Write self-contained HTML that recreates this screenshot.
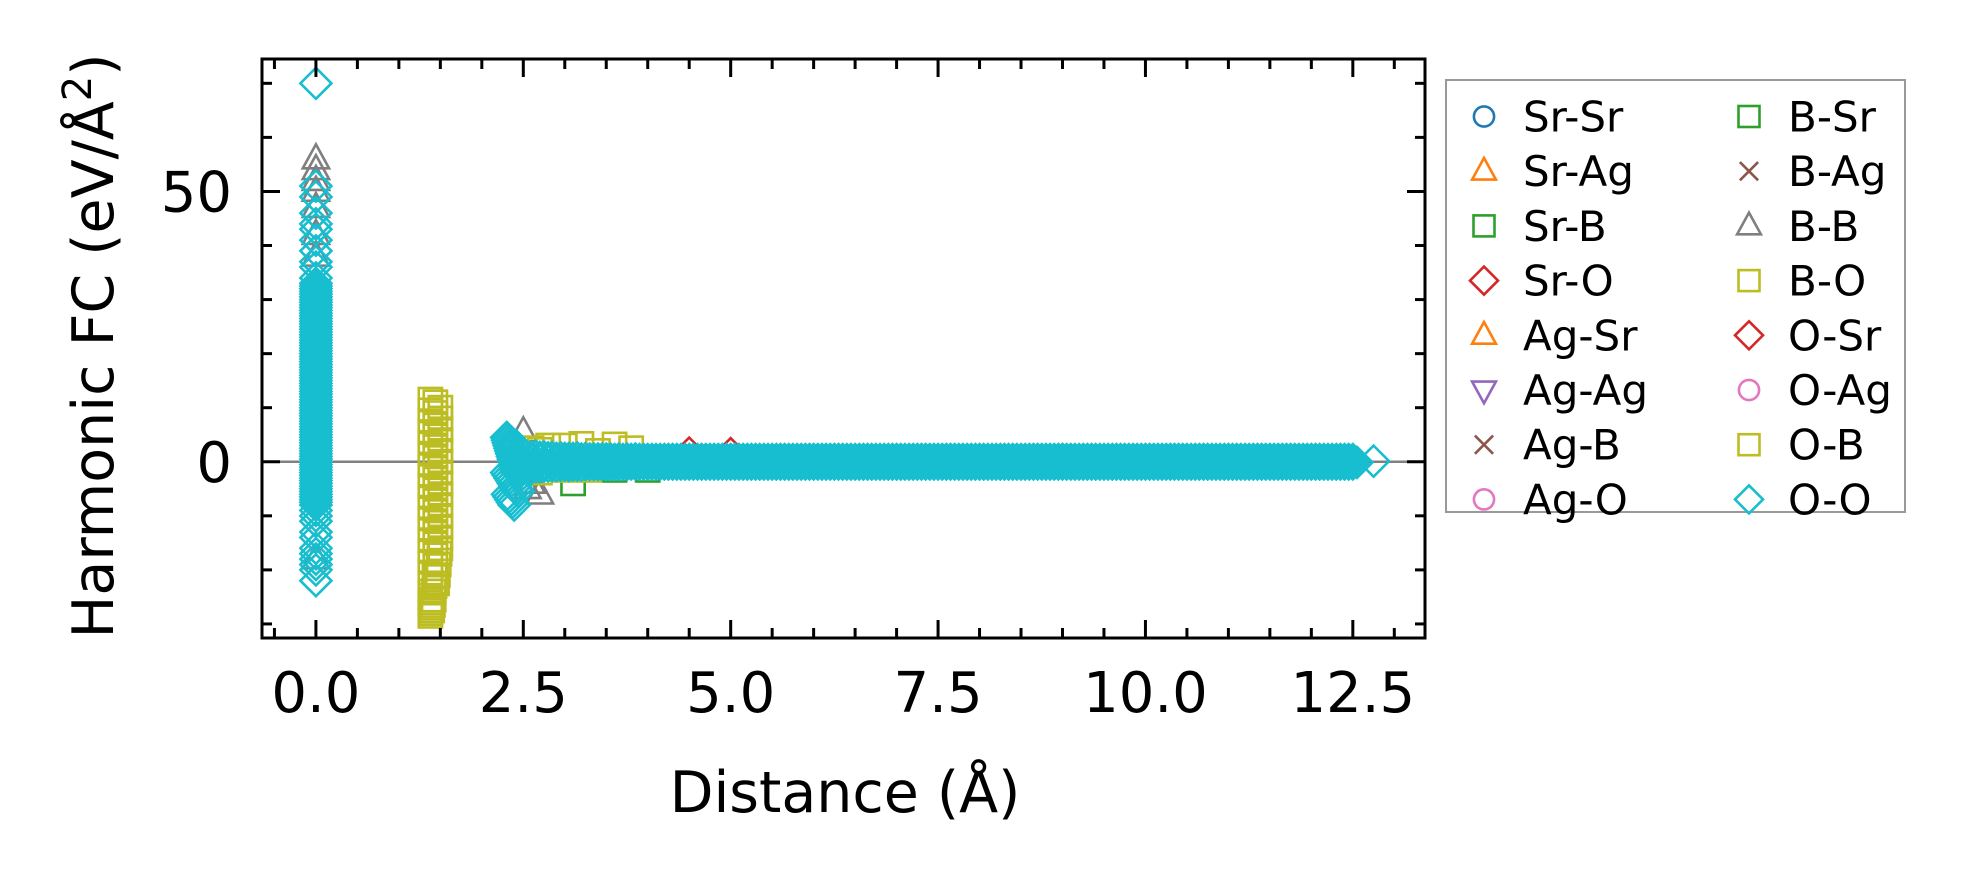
<!DOCTYPE html>
<html><head><meta charset="utf-8"><style>
html,body{margin:0;padding:0;background:#fff;}
svg{display:block;font-family:"DejaVu Sans","Liberation Sans",sans-serif;}
</style></head><body>
<svg id="chart" width="1966" height="883" viewBox="0 0 1966 883" xmlns="http://www.w3.org/2000/svg">
<rect x="0" y="0" width="1966" height="883" fill="#fff"/>
<g id="plot"></g>
<g id="axes"></g>
<g id="legend"></g>
</svg>
<script>
// axis config
const xTicks = [0.0, 2.5, 5.0, 7.5, 10.0, 12.5];
const xTickLabels = ["0.0", "2.5", "5.0", "7.5", "10.0", "12.5"];
const yTicks = [0, 50];
const yTickLabels = ["0", "50"];

// O-O at zero distance (self terms)
const ooY0 = [70,51,49,46,44,43,41,39,37,36,34,33,32.5,32,31.5,31,30.5,30,29.5,29,28.5,28,27.5,27,26.5,26,25.5,25,24.5,24,23.5,23,22.5,22,21.5,21,20.5,20,19.5,19,18.5,18,17.5,17,16.5,16,15.5,15,14.5,14,13.5,13,12.5,12,11.5,11,10.5,10,9.5,9,8.5,8,7.5,7,6.5,6,5.5,5,4.5,4,3.5,3,2.5,2,1.5,1,0.5,0,-0.5,-1,-1.5,-2,-2.5,-3,-3.5,-4,-4.5,-5,-5.5,-6,-6.5,-7,-7.5,-8,-9,-10,-11,-13,-14,-16,-17,-18,-19,-20,-22];
// O-O near neighbours cluster
const ooXc = [2.3,2.31,2.32,2.33,2.34,2.35,2.36,2.37,2.38,2.39,2.4,2.41,2.42,2.3,2.32,2.34,2.36,2.38,2.4,2.42,2.44,2.31,2.33,2.35,2.37,2.39,2.41,2.43,2.45,2.47];
const ooYc = [4.5,4,3.5,3,2.5,2,1.5,1,0.5,0,-0.5,-1,-1.5,-2,-2.5,-3,-3.5,-4,-4.5,-5,-5.5,-6,-6.5,-7,-7.5,-8,3,-2,1,-1];
// O-O long-range band
const bandX = [2.50,2.55,2.60,2.65,2.70,2.75,2.80,2.85,2.90,2.95,3.00,3.05,3.10,3.15,3.20,3.25,3.30,3.35,3.40,3.45,3.50,3.55,3.60,3.65,3.70,3.75,3.80,3.85,3.90,3.95,4.00,4.05,4.10,4.15,4.20,4.25,4.30,4.35,4.40,4.45,4.50,4.55,4.60,4.65,4.70,4.75,4.80,4.85,4.90,4.95,5.00,5.05,5.10,5.15,5.20,5.25,5.30,5.35,5.40,5.45,5.50,5.55,5.60,5.65,5.70,5.75,5.80,5.85,5.90,5.95,6.00,6.05,6.10,6.15,6.20,6.25,6.30,6.35,6.40,6.45,6.50,6.55,6.60,6.65,6.70,6.75,6.80,6.85,6.90,6.95,7.00,7.05,7.10,7.15,7.20,7.25,7.30,7.35,7.40,7.45,7.50,7.55,7.60,7.65,7.70,7.75,7.80,7.85,7.90,7.95,8.00,8.05,8.10,8.15,8.20,8.25,8.30,8.35,8.40,8.45,8.50,8.55,8.60,8.65,8.70,8.75,8.80,8.85,8.90,8.95,9.00,9.05,9.10,9.15,9.20,9.25,9.30,9.35,9.40,9.45,9.50,9.55,9.60,9.65,9.70,9.75,9.80,9.85,9.90,9.95,10.00,10.05,10.10,10.15,10.20,10.25,10.30,10.35,10.40,10.45,10.50,10.55,10.60,10.65,10.70,10.75,10.80,10.85,10.90,10.95,11.00,11.05,11.10,11.15,11.20,11.25,11.30,11.35,11.40,11.45,11.50,11.55,11.60,11.65,11.70,11.75,11.80,11.85,11.90,11.95,12.00,12.05,12.10,12.15,12.20,12.25,12.30,12.35,12.40,12.45,12.50];
const bandYa = [1.2,-1.0,0.9,-0.9,0.8,-0.8,0.7,-0.7,0.6,-0.6,0.6,-0.7,0.6,-0.6,0.5,-0.5,0.5,-0.5,0.5,-0.5,0.5,-0.5,0.4,-0.5,0.4,-0.5,0.4,-0.4,0.4,-0.4,0.4,-0.4,0.4,-0.4,0.4,-0.4,0.4,-0.4,0.4,-0.4,0.4,-0.4,0.4,-0.4,0.4,-0.4,0.4,-0.4,0.4,-0.4,0.4,-0.4,0.4,-0.4,0.4,-0.4,0.4,-0.4,0.4,-0.4,0.4,-0.4,0.4,-0.4,0.4,-0.4,0.4,-0.4,0.4,-0.4,0.4,-0.4,0.4,-0.4,0.4,-0.4,0.4,-0.4,0.4,-0.4,0.4,-0.4,0.4,-0.4,0.4,-0.4,0.4,-0.4,0.4,-0.4,0.4,-0.4,0.4,-0.4,0.4,-0.4,0.4,-0.4,0.4,-0.4,0.4,-0.4,0.4,-0.4,0.4,-0.4,0.4,-0.4,0.4,-0.4,0.4,-0.4,0.4,-0.4,0.4,-0.4,0.4,-0.4,0.4,-0.4,0.4,-0.4,0.4,-0.4,0.4,-0.4,0.4,-0.4,0.4,-0.4,0.4,-0.4,0.4,-0.4,0.4,-0.4,0.4,-0.4,0.4,-0.4,0.4,-0.4,0.4,-0.4,0.4,-0.4,0.4,-0.4,0.4,-0.4,0.4,-0.4,0.4,-0.4,0.4,-0.4,0.4,-0.4,0.4,-0.4,0.4,-0.4,0.4,-0.4,0.4,-0.4,0.4,-0.4,0.4,-0.4,0.4,-0.4,0.4,-0.4,0.4,-0.4,0.4,-0.4,0.4,-0.4,0.4,-0.4,0.4,-0.4,0.4,-0.4,0.4,-0.4,0.4,-0.4,0.4,-0.4,0.4,-0.4,0.4,-0.4,0.4,-0.4,0.4,-0.4,0.4,-0.4,0.4];
const ooXend = [12.55, 12.75];
const ooYend = [0, 0];
// B-B
const bbX = [0,0,0,0,0,0,0,0,0,0,0,2.5,2.6,2.7,2.55];
const bbY = [56,54,52,50,47,42,38,33,30,-6,-18,5.5,-4,-6,-5];
// B-O
const boX = [1.38,1.44,1.5,1.38,1.44,1.5,1.38,1.44,1.5,1.38,1.44,1.5,1.38,1.44,1.5,1.38,1.44,1.5,1.38,1.44,1.5,1.38,1.44,1.5,1.38,1.44,1.5,1.38,1.44,1.5,1.38,1.44,1.5,1.38,1.44,1.5,1.38,1.44,1.5,1.38,1.44,1.5,1.38,1.44,1.49,1.38,1.44,1.48,1.38,1.43,1.47,1.38,1.43,1.46,1.38,1.42,1.38,1.42,1.38,1.41,1.38,1.4,1.38,1.38,2.6,2.7,2.8,3.0,3.2,3.4,3.6,3.8,2.7,3.0,3.3];
const boY = [11.5,11,10,9.5,9,8,7.5,7,6,5.5,5,4,3.5,3,2,1.5,1,0,-0.5,-1,-2,-2.5,-3,-4,-4.5,-5,-6,-6.5,-7,-8,-8.5,-9,-10,-10.5,-11,-12,-12.5,-13,-14,-14.5,-15,-16,-16.5,-17,-17,-18.5,-19,-19,-20.5,-21,-21,-22.5,-23,-22.5,-24,-24,-25.5,-25.5,-27,-26.5,-28,-27.5,-28.5,-26,2.5,2.2,3,3,3.3,2,3.2,2.5,-2,-1.5,-1.5];
// B-Sr and Sr-O
const bsrX = [3.1, 3.6, 4.0];
const bsrY = [-4, -1.5, -1.5];
const sroX = [4.5, 5.0, 12.5, 9.0];
const sroY = [1.6, 1.5, 0, 0.4];

const xMin = -0.65, xMax = 13.37, yMin = -32.6, yMax = 74.5;
const L = 262, R = 1425, T = 59, B = 638;
function sx(v){ return L + (v - xMin) / (xMax - xMin) * (R - L); }
function sy(v){ return B - (v - yMin) / (yMax - yMin) * (B - T); }

const NS = "http://www.w3.org/2000/svg";
function mk(tag, attrs, parent){
  const e = document.createElementNS(NS, tag);
  for (const k in attrs) e.setAttribute(k, attrs[k]);
  parent.appendChild(e);
  return e;
}
function marker(shape, cx, cy, s, color, parent){
  let e;
  if (shape === "circle") e = mk("circle", {cx:cx, cy:cy, r:s*0.72}, parent);
  else if (shape === "square") e = mk("rect", {x:cx-s*0.75, y:cy-s*0.75, width:s*1.5, height:s*1.5}, parent);
  else if (shape === "diamond") e = mk("path", {d:`M${cx},${cy-s}L${cx+s},${cy}L${cx},${cy+s}L${cx-s},${cy}Z`}, parent);
  else if (shape === "tri") e = mk("path", {d:`M${cx},${cy-s*0.95}L${cx+s*0.85},${cy+s*0.6}L${cx-s*0.85},${cy+s*0.6}Z`}, parent);
  else if (shape === "trid") e = mk("path", {d:`M${cx},${cy+s*0.95}L${cx+s*0.85},${cy-s*0.6}L${cx-s*0.85},${cy-s*0.6}Z`}, parent);
  else if (shape === "x") e = mk("path", {d:`M${cx-s*0.65},${cy-s*0.65}L${cx+s*0.65},${cy+s*0.65}M${cx-s*0.65},${cy+s*0.65}L${cx+s*0.65},${cy-s*0.65}`}, parent);
  e.setAttribute("fill", "none");
  e.setAttribute("stroke", color);
  e.setAttribute("stroke-width", "2.6");
  return e;
}

const plot = document.getElementById("plot");
const axes = document.getElementById("axes");
const legend = document.getElementById("legend");

const zl = mk("line", {x1:L, x2:R, y1:sy(0), y2:sy(0), stroke:"#808080", "stroke-width":2.5}, plot);



function drawSeries(name, xs, ys, shape, color, size){
  const g = mk("g", {}, plot);
  
  
  for (let i = 0; i < xs.length; i++){
    const m = marker(shape, sx(xs[i]), sy(ys[i]), size, color, g);
    
    
  }
}
const ooX0 = ooY0.map(() => 0);
drawSeries("series-sr-o", sroX, sroY, "diamond", "#d62728", 15.5);
drawSeries("series-b-sr", bsrX, bsrY, "square", "#2ca02c", 15.5);
drawSeries("series-b-b", bbX, bbY, "tri", "#7f7f7f", 15.5);
drawSeries("series-b-o", boX, boY, "square", "#bcbd22", 15.5);
drawSeries("series-o-o", ooX0.concat(ooXc, bandX, bandX, bandX, ooXend),
  ooY0.concat(ooYc, bandYa, bandYa.map(v => -v), bandYa.map(v => v * 0.3), ooYend), "diamond", "#17becf", 15.5);

const frame = mk("rect", {x:L, y:T, width:R-L, height:B-T, fill:"none", stroke:"#000", "stroke-width":3}, axes);



for (let v = -0.5; v <= 13.3; v += 0.5){
  const vv = Math.round(v*10)/10;
  const major = Math.abs(vv/2.5 - Math.round(vv/2.5)) < 1e-6;
  const len = major ? 18 : 10;
  const x = sx(vv);
  const t1 = mk("line", {x1:x, x2:x, y1:B, y2:B-len, stroke:"#000", "stroke-width":3}, axes);
  
  
  const t2 = mk("line", {x1:x, x2:x, y1:T, y2:T+len, stroke:"#000", "stroke-width":3}, axes);
  
  
}
for (let v = -30; v <= 70; v += 10){
  const major = v % 50 === 0;
  const len = major ? 18 : 10;
  const y = sy(v);
  const t1 = mk("line", {x1:L, x2:L+len, y1:y, y2:y, stroke:"#000", "stroke-width":3}, axes);
  
  
  const t2 = mk("line", {x1:R, x2:R-len, y1:y, y2:y, stroke:"#000", "stroke-width":3}, axes);
  
  
}
xTicks.forEach((v, i) => {
  const t = mk("text", {x:sx(v), y:712, "text-anchor":"middle", "font-size":56, fill:"#000"}, axes);
  t.textContent = xTickLabels[i];
  
  
});
yTicks.forEach((v, i) => {
  const t = mk("text", {x:232, y:sy(v)+20, "text-anchor":"end", "font-size":56, fill:"#000"}, axes);
  t.textContent = yTickLabels[i];
  
  
});
const xl = mk("text", {x:845, y:812, "text-anchor":"middle", "font-size":57, fill:"#000"}, axes);
xl.textContent = "Distance (Å)";


const yl = mk("text", {x:0, y:0, "text-anchor":"middle", "font-size":57, fill:"#000", transform:"translate(113,346) rotate(-90)"}, axes);
yl.innerHTML = 'Harmonic FC (eV/Å<tspan dy="-22" font-size="40">2</tspan><tspan dy="22">)</tspan>';



const legNames = ["Sr-Sr","Sr-Ag","Sr-B","Sr-O","Ag-Sr","Ag-Ag","Ag-B","Ag-O","B-Sr","B-Ag","B-B","B-O","O-Sr","O-Ag","O-B","O-O"];
const legShapes = ["circle","tri","square","diamond","tri","trid","x","circle","square","x","tri","square","diamond","circle","square","diamond"];
const legColors = ["#1f77b4","#ff7f0e","#2ca02c","#d62728","#ff7f0e","#9467bd","#8c564b","#e377c2","#2ca02c","#8c564b","#7f7f7f","#bcbd22","#d62728","#e377c2","#bcbd22","#17becf"];
const lb = mk("rect", {x:1446, y:80, width:459, height:432, fill:"#fff", stroke:"#999", "stroke-width":2}, legend);


legNames.forEach((n, i) => {
  const col = Math.floor(i / 8), row = i % 8;
  const mx = col ? 1749 : 1484, tx = col ? 1788 : 1523;
  const y = 116.5 + row * 54.7;
  const g = mk("g", {}, legend);
  
  
  marker(legShapes[i], mx, y, 14, legColors[i], g);
  const t = mk("text", {x:tx, y:y+15, "font-size":42, fill:"#000"}, g);
  t.textContent = n;
});
</script>
</body></html>
